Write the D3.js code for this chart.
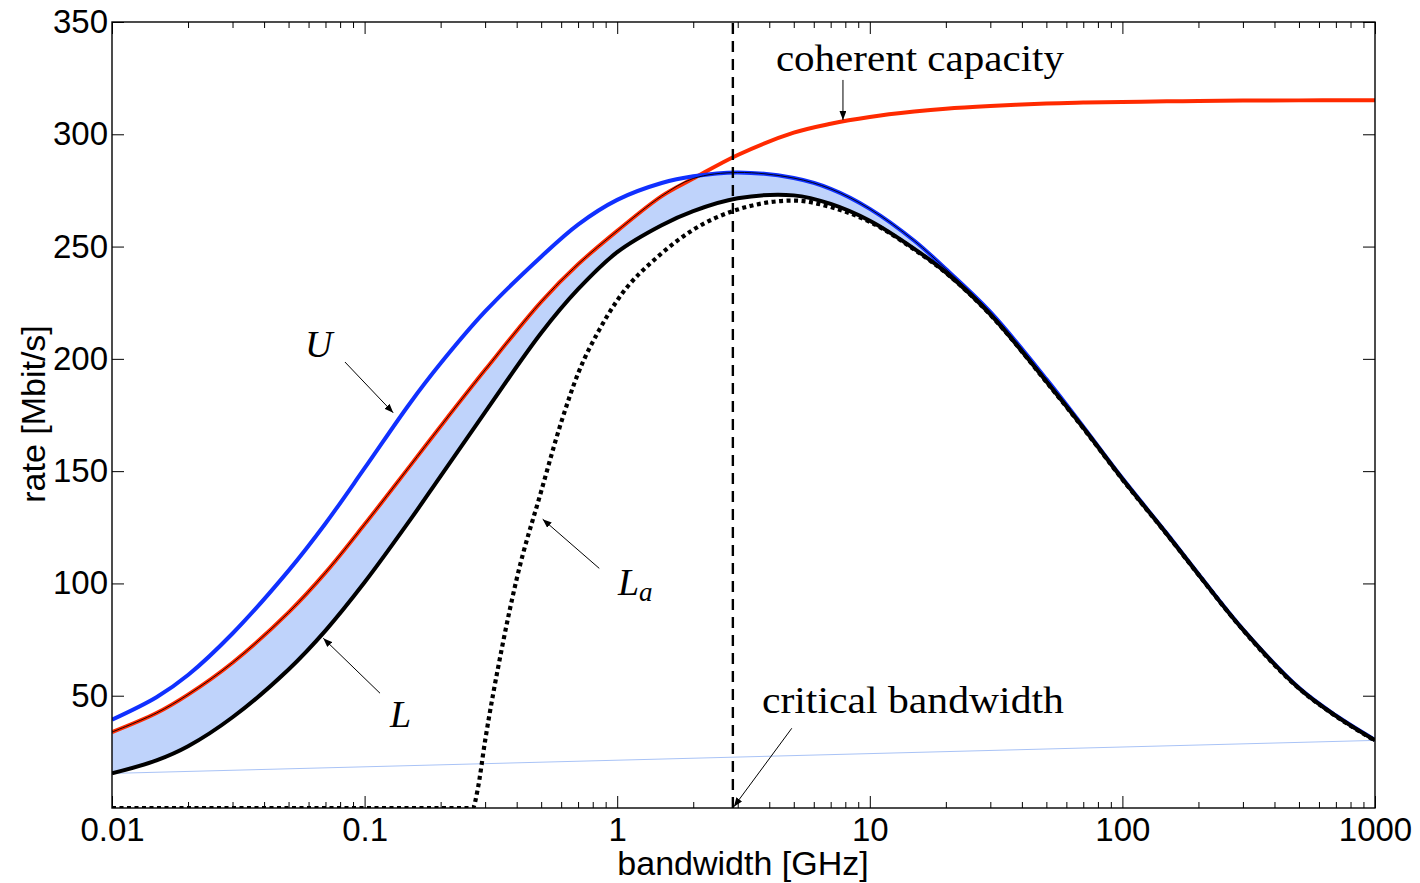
<!DOCTYPE html>
<html lang="en">
<head>
<meta charset="UTF-8">
<title>rate vs bandwidth</title>
<script src="https://d3js.org/d3.v7.min.js"></script>
<style>
    body { margin: 0; background: #fff; }
    .tick-label { font-family: "Liberation Sans", Arial, sans-serif; font-size: 33px; fill: #000; }
    .axis-title { font-family: "Liberation Sans", Arial, sans-serif; font-size: 34px; fill: #000; }
    .note { font-family: "Liberation Serif", "Times New Roman", serif; font-size: 37px; fill: #000; }
    .math { font-family: "Liberation Serif", "Times New Roman", serif; font-style: italic; font-size: 38px; fill: #000; }
</style>
</head>
<body>
<script>
    // bandwidth grid [GHz] shared by U, L and the coherent capacity
    const bandwidth = [0.01, 0.015, 0.02, 0.03, 0.05, 0.07, 0.1, 0.15, 0.2, 0.3, 0.5, 0.7, 1, 1.5, 2, 3, 5, 7,
        10, 15, 20, 30, 50, 70, 100, 150, 200, 300, 500, 700, 1000];
    // rates [Mbit/s]
    const upperU = [39.3, 49.3, 59.2, 77.7, 105.7, 126.7, 151.3, 179.7, 198, 221.1, 245.5, 259.8, 270.8, 278.3, 281.3, 283, 280.5, 275.7,
        266.8, 252.6, 240, 220.9, 191, 169.8, 146.8, 122.2, 104.2, 79.6, 53.5, 41.2, 30.3];
    const lowerL = [15.4, 21.2, 27.5, 40.4, 61.7, 79, 100.5, 127.6, 147.8, 176.3, 211.5, 231, 247.5, 259.5, 265.8, 271.5, 272.8, 269,
        261.5, 249, 238.5, 219.8, 189.9, 169.3, 146.5, 121.9, 104, 79.4, 53.3, 41, 30.1];
    const coherent = [33.8, 42.3, 50.5, 64.7, 87.1, 104.8, 126.3, 151.8, 170, 195.1, 225.4, 242.1, 257, 272.5, 280.3, 290.8, 300.7, 304.7,
        307.7, 310.1, 311.4, 312.6, 313.7, 314.1, 314.4, 314.7, 314.8, 315, 315.1, 315.2, 315.2];

    // L_a has its own grid (it is zero below ~0.27 GHz)
    const bandwidthLa = [0.01, 0.268, 0.28, 0.3, 0.35, 0.4, 0.5, 0.6, 0.7, 0.85, 1, 1.5, 2, 3, 5, 7,
        10, 15, 20, 30, 50, 70, 100, 150, 200, 300, 500, 700, 1000];
    const lowerLa = [0, 0, 8, 30, 71.5, 102, 141, 171.7, 193.5, 213, 226, 247, 257.5, 266.5, 270.5, 267.6,
        261, 248.7, 238.3, 219.6, 189.7, 169.1, 146.3, 121.8, 103.9, 79.3, 53.2, 40.9, 30];

    const criticalBandwidth = 2.87;

    const xTicks = [0.01, 0.1, 1, 10, 100, 1000];
    const yTicks = [50, 100, 150, 200, 250, 300, 350];

    // text annotations, anchored in data coordinates
    const notes = [
        {text: "coherent capacity", b: 4.25, v: 328.2, len: 288},
        {text: "critical bandwidth", b: 3.74, v: 42.3, len: 302}
    ];
    const arrows = [
        [7.83, 324.2, 7.83, 306.4],
        [0.0836, 198.6, 0.1298, 176.0],
        [0.1151, 51.1, 0.0686, 75.6],
        [0.8493, 106.7, 0.507, 128.6],
        [4.91, 35.5, 2.897, 0.6]
    ];

    const width = 1420, height = 883;
    const plot = {left: 112, right: 1375, top: 22, bottom: 808};

    const svg = d3.select("body").append("svg")
        .attr("width", width)
        .attr("height", height);

    const x = d3.scaleLog().domain([0.01, 1000]).range([plot.left, plot.right]);
    const y = d3.scaleLinear().domain([0, 350]).range([plot.bottom, plot.top]);

    const defs = svg.append("defs");
    defs.append("clipPath").attr("id", "clip")
        .append("rect")
        .attr("x", plot.left).attr("y", plot.top)
        .attr("width", plot.right - plot.left).attr("height", plot.bottom - plot.top);

    defs.append("marker")
        .attr("id", "arrow")
        .attr("markerUnits", "userSpaceOnUse")
        .attr("markerWidth", 10).attr("markerHeight", 7)
        .attr("refX", 9).attr("refY", 3.5)
        .attr("orient", "auto")
        .append("path").attr("d", "M0,0 L9,3.5 L0,7 Z").attr("fill", "#000");

    const curves = svg.append("g").attr("clip-path", "url(#clip)");

    const rows = bandwidth.map((b, i) => ({b: b, u: upperU[i], l: lowerL[i], c: coherent[i]}));
    const rowsLa = bandwidthLa.map((b, i) => ({b: b, v: lowerLa[i]}));
    const smooth = d3.curveCatmullRom.alpha(0.5);

    // shaded band between L and min(U, coherent)
    const band = d3.area()
        .x(d => x(d.b))
        .y0(d => y(d.l))
        .y1(d => y(Math.min(d.u, d.c)))
        .curve(smooth);

    curves.append("path")
        .datum(rows)
        .attr("d", band)
        .attr("fill", "#bfd3fb");

    // thin closing edge of the patch
    curves.append("path")
        .datum([rows[0], rows[rows.length - 1]])
        .attr("d", d3.line().x(d => x(d.b)).y(d => y(d.l)))
        .attr("fill", "none")
        .attr("stroke", "#a9c3f6")
        .attr("stroke-width", 1);

    function curveOf(key) {
        return d3.line().x(d => x(d.b)).y(d => y(d[key])).curve(smooth);
    }

    curves.append("path").datum(rows).attr("d", curveOf("c"))
        .attr("fill", "none").attr("stroke", "#ff2a00").attr("stroke-width", 4);

    curves.append("path").datum(rows).attr("d", curveOf("u"))
        .attr("fill", "none").attr("stroke", "#1030ff").attr("stroke-width", 4);

    curves.append("path").datum(rows).attr("d", curveOf("l"))
        .attr("fill", "none").attr("stroke", "#000").attr("stroke-width", 4);

    // patch outline along the upper edge
    curves.append("path").datum(rows)
        .attr("d", d3.line().x(d => x(d.b)).y(d => y(Math.min(d.u, d.c))).curve(smooth))
        .attr("fill", "none").attr("stroke", "#000").attr("stroke-width", 0.9);

    curves.append("path").datum(rowsLa)
        .attr("d", d3.line().x(d => x(d.b)).y(d => y(d.v)).curve(d3.curveMonotoneX))
        .attr("fill", "none").attr("stroke", "#000").attr("stroke-width", 4.2)
        .attr("stroke-dasharray", "4,3.5");

    // critical bandwidth marker
    svg.append("line")
        .attr("x1", x(criticalBandwidth)).attr("x2", x(criticalBandwidth))
        .attr("y1", y(0)).attr("y2", y(352))
        .attr("stroke", "#000").attr("stroke-width", 2.4)
        .attr("stroke-dasharray", "11,7");

    // axes: ticks point inward on all four sides
    const minor = [];
    [0.01, 0.1, 1, 10, 100].forEach(d => { for (let k = 2; k <= 9; k++) minor.push(d * k); });

    function styleAxis(g) {
        g.select(".domain").remove();
        g.selectAll(".tick line").attr("stroke", "#000").attr("stroke-width", 1);
        g.selectAll(".tick text").attr("class", "tick-label").attr("font-size", null).attr("font-family", null);
    }

    svg.append("g").attr("transform", `translate(0,${plot.bottom})`)
        .call(d3.axisBottom(x).tickValues(xTicks).tickFormat(d => String(d)).tickSize(-12).tickPadding(10))
        .call(styleAxis);
    svg.append("g").attr("transform", `translate(0,${plot.bottom})`)
        .call(d3.axisBottom(x).tickValues(minor).tickFormat("").tickSize(-6))
        .call(styleAxis);
    svg.append("g").attr("transform", `translate(0,${plot.top})`)
        .call(d3.axisTop(x).tickValues(xTicks).tickFormat("").tickSize(-12))
        .call(styleAxis);
    svg.append("g").attr("transform", `translate(0,${plot.top})`)
        .call(d3.axisTop(x).tickValues(minor).tickFormat("").tickSize(-6))
        .call(styleAxis);
    svg.append("g").attr("transform", `translate(${plot.left},0)`)
        .call(d3.axisLeft(y).tickValues(yTicks).tickSize(-12).tickPadding(4))
        .call(styleAxis);
    svg.append("g").attr("transform", `translate(${plot.right},0)`)
        .call(d3.axisRight(y).tickValues(yTicks).tickFormat("").tickSize(-12))
        .call(styleAxis);

    svg.append("rect")
        .attr("x", plot.left).attr("y", plot.top)
        .attr("width", plot.right - plot.left).attr("height", plot.bottom - plot.top)
        .attr("fill", "none").attr("stroke", "#000").attr("stroke-width", 1.4);

    // axis titles
    svg.append("text")
        .attr("class", "axis-title")
        .attr("x", 743)
        .attr("y", 875)
        .attr("text-anchor", "middle")
        .text("bandwidth [GHz]");

    svg.append("text")
        .attr("class", "axis-title")
        .attr("transform", "translate(45,414) rotate(-90)")
        .attr("text-anchor", "middle")
        .text("rate [Mbit/s]");

    // annotations
    notes.forEach(n => {
        svg.append("text")
            .attr("class", "note")
            .attr("x", x(n.b)).attr("y", y(n.v))
            .attr("textLength", n.len)
            .attr("lengthAdjust", "spacingAndGlyphs")
            .text(n.text);
    });

    arrows.forEach(a => {
        svg.append("line")
            .attr("x1", x(a[0])).attr("y1", y(a[1]))
            .attr("x2", x(a[2])).attr("y2", y(a[3]))
            .attr("stroke", "#000").attr("stroke-width", 1)
            .attr("marker-end", "url(#arrow)");
    });

    svg.append("text").attr("class", "math")
        .attr("x", x(0.0581)).attr("y", y(200.8)).text("U");
    svg.append("text").attr("class", "math")
        .attr("x", x(0.126)).attr("y", y(36.1)).text("L");
    const la = svg.append("text").attr("class", "math")
        .attr("x", x(1.007)).attr("y", y(94.8));
    la.append("tspan").text("L");
    la.append("tspan").attr("dy", 6).attr("font-size", 27).text("a");
</script>
</body>
</html>
